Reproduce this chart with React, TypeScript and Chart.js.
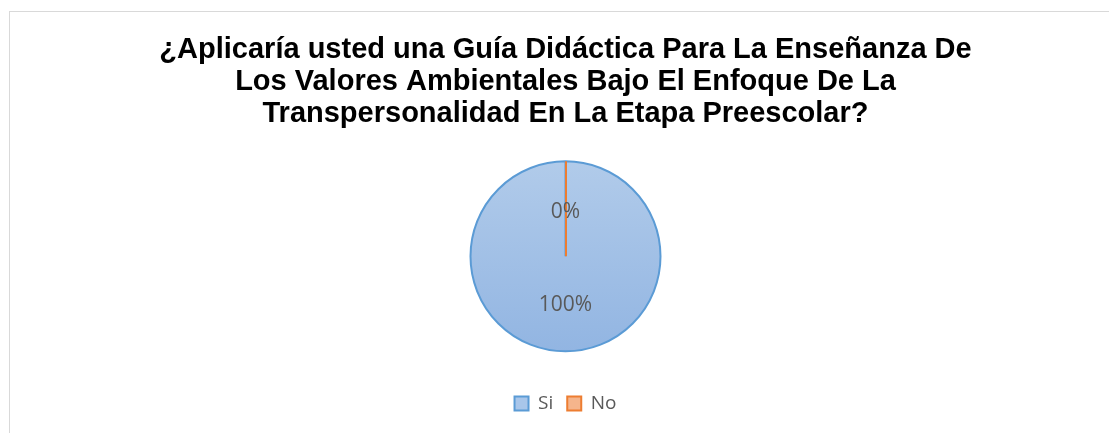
import React, { useEffect, useRef } from "react";
import { Chart, registerables } from "chart.js";

Chart.register(...registerables);

const categories = ["Si", "No"];
const values = [100, 0];
const percentLabels = ["100%", "0%"];
const titleLines = [
  "¿Aplicaría usted una Guía Didáctica Para La Enseñanza De",
  "Los Valores Ambientales Bajo El Enfoque De La",
  "Transpersonalidad En La Etapa Preescolar?",
];

const borderColors = ["#5b9bd5", "#ed7d31"];
const legendFills = ["#a9c6ea", "#f5b58c"];
const PIE_RADIUS = 95;

const zeroSlicePlugin = {
  id: "zeroSlice",
  afterDatasetsDraw(chart: any) {
    const meta = chart.getDatasetMeta(0);
    const ctx = chart.ctx;
    meta.data.forEach((arc: any, i: number) => {
      const p = arc.getProps(["x", "y", "startAngle", "endAngle", "outerRadius"], true);
      if (values[i] === 0) {
        const x0 = Math.round(p.x);
        ctx.save();
        ctx.strokeStyle = borderColors[i];
        ctx.lineWidth = 2;
        ctx.beginPath();
        ctx.moveTo(x0, p.y);
        ctx.lineTo(x0 + Math.cos(p.startAngle) * p.outerRadius, p.y + Math.sin(p.startAngle) * p.outerRadius);
        ctx.stroke();
        ctx.restore();
      }
    });
    meta.data.forEach((arc: any, i: number) => {
      const p = arc.getProps(["x", "y", "startAngle", "endAngle", "outerRadius"], true);
      const mid = (p.startAngle + p.endAngle) / 2;
      const r = p.outerRadius * 0.49;
      ctx.save();
      ctx.fillStyle = "#595959";
      ctx.font = "21px 'Open Sans'";
      ctx.textAlign = "center";
      ctx.textBaseline = "middle";
      ctx.fillText(percentLabels[i], p.x + Math.cos(mid) * r, p.y + Math.sin(mid) * r + 2.5);
      ctx.restore();
    });
  },
};

export default function App() {
  const ref = useRef<HTMLCanvasElement>(null);
  useEffect(() => {
    if (!ref.current) return;
    const chart = new Chart(ref.current, {
      type: "pie",
      data: {
        labels: categories,
        datasets: [
          {
            data: values,
            radius: PIE_RADIUS,
            backgroundColor: (c: any) => {
              const ch = c.chart;
              const a = ch.chartArea;
              if (!a) return "#a3c2e8";
              const cy = (a.top + a.bottom) / 2;
              const g = ch.ctx.createLinearGradient(0, cy - PIE_RADIUS, 0, cy + PIE_RADIUS);
              g.addColorStop(0, "#b1cbea");
              g.addColorStop(1, "#92b5e2");
              return c.dataIndex === 0 ? g : "#f4b183";
            },
            borderColor: borderColors,
            borderWidth: 2,
          },
        ],
      },
      options: {
        animation: false,
        responsive: false,
        maintainAspectRatio: false,
        layout: { padding: 0 },
        plugins: {
          title: {
            display: true,
            text: titleLines,
            color: "#000000",
            font: { family: "'Liberation Sans', Arial", size: 29, weight: "bold", lineHeight: 1.1 },
            padding: { top: 22, bottom: 3 },
          },
          legend: {
            position: "bottom",
            labels: {
              color: "#595959",
              font: { family: "'Open Sans'", size: 19 },
              boxWidth: 14,
              boxHeight: 14,
              padding: 14,
              generateLabels: () =>
                categories.map((c, i) => ({
                  text: c,
                  fillStyle: legendFills[i],
                  strokeStyle: borderColors[i],
                  lineWidth: 2,
                  hidden: false,
                  index: i,
                  fontColor: "#595959",
                })),
            },
          },
          tooltip: { enabled: false },
        },
      },
      plugins: [zeroSlicePlugin],
    });
    return () => chart.destroy();
  }, []);
  return (
    <div style={{ position: "absolute", left: 0, top: 0, width: 1109, height: 433, overflow: "hidden", background: "#fff" }}>
      <div style={{ position: "absolute", left: 9, top: 11, width: 1112, height: 440, borderTop: "1px solid #d9d9d9", borderLeft: "1px solid #d9d9d9", boxSizing: "border-box" }}>
        <canvas ref={ref} width={1111} height={411} style={{ display: "block" }} />
      </div>
    </div>
  );
}
